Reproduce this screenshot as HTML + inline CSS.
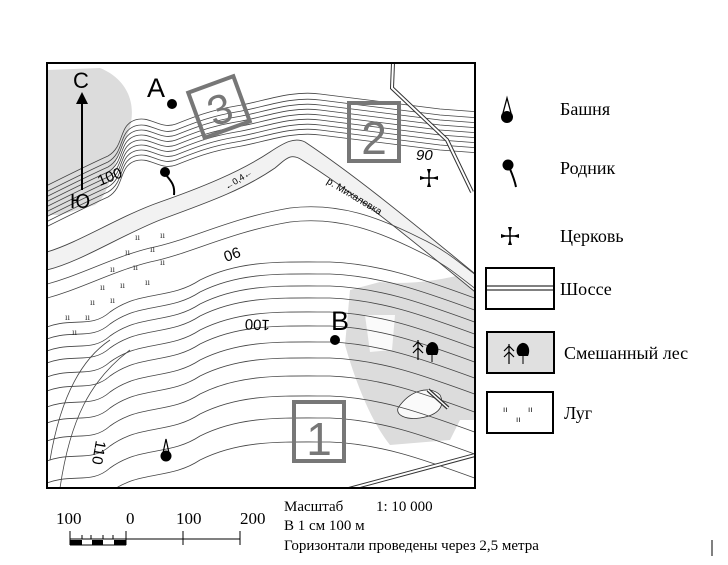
<!DOCTYPE html>
<html><head><meta charset="utf-8"><style>
html,body{margin:0;padding:0;background:#fff;}
svg{display:block}
text{font-family:"Liberation Serif",serif;}
.s{font-family:"Liberation Sans",sans-serif;}
</style></head><body>
<svg width="728" height="565" viewBox="0 0 728 565" xmlns="http://www.w3.org/2000/svg">
<defs>
<clipPath id="mc"><rect x="47" y="63" width="428" height="425"/></clipPath>
<path id="N" d="M40,195 C70,180 90,170 108,162 C125,152 118,132 135,126 C150,121 160,136 176,130 C196,122 212,116 236,112 C262,108 290,96 320,100 C360,105 400,110 440,115 L480,118" fill="none"/>
<path id="S" d="M40,300 C80,290 110,272 150,262 C190,254 230,232 290,222 C340,216 380,232 420,252 C450,266 465,282 480,292" fill="none"/>
<path id="S2" d="M40,330 C70,315 90,330 110,312 C140,290 170,300 200,280 C240,260 280,262 330,262 C380,264 420,278 480,300" fill="none"/>
</defs>
<g clip-path="url(#mc)">
<path d="M47,70 L100,68 C130,80 140,110 125,140 C110,170 110,195 95,205 L60,215 L47,215 Z" fill="#dcdcdc"/>
<path d="M350,290 L380,282 C410,285 440,280 460,275 L475,280 L475,420 L460,420 L450,440 L390,445 C370,420 355,380 345,345 Z" fill="#dcdcdc"/>
<path d="M398,408 C410,390 430,385 440,395 C445,405 440,415 420,418 C405,420 396,415 398,408 Z" fill="#fafafa" stroke="#333" stroke-width="0.8"/>
<path d="M365,315 L395,315 L392,350 L370,352 Z" fill="#fafafa"/>
<path d="M47,252 C80,242 120,216 160,202 C200,188 240,172 270,152 C285,142 295,137 305,142 C350,172 400,212 480,278 L480,296 C400,230 350,190 302,160 C290,152 285,160 275,168 C240,192 200,205 160,220 C120,236 80,262 47,270 Z" fill="#f2f2f2" stroke="#444" stroke-width="0.9"/>
<g stroke="#444" stroke-width="0.8" fill="none">
<use href="#N"/><use href="#N" y="5"/><use href="#N" y="10"/><use href="#N" y="15"/><use href="#N" y="20"/><use href="#N" y="25"/><use href="#N" y="30"/><use href="#N" y="35"/><use href="#N" y="-6"/>
<use href="#S" y="0"/><use href="#S" y="-14"/>
<use href="#S2" y="0"/><use href="#S2" y="12"/><use href="#S2" y="24"/><use href="#S2" y="36"/><use href="#S2" y="50"/><use href="#S2" y="64"/><use href="#S2" y="80"/><use href="#S2" y="96"/><use href="#S2" y="114"/><use href="#S2" y="134"/><use href="#S2" y="156"/><use href="#S2" y="180"/>
<path d="M60,488 C70,420 90,380 130,350"/><path d="M50,460 C60,400 80,360 110,340"/>
</g>
<path d="M393,63 L392,88 L447,140 L472,192" fill="none" stroke="#333" stroke-width="4"/>
<path d="M393,63 L392,88 L447,140 L472,192" fill="none" stroke="#fff" stroke-width="2"/>
<path d="M345,490 L475,455" fill="none" stroke="#333" stroke-width="4"/>
<path d="M345,490 L475,455" fill="none" stroke="#fff" stroke-width="2"/>
<path d="M428,390 L448,408" stroke="#333" stroke-width="4"/><path d="M428,390 L448,408" stroke="#fff" stroke-width="1.5"/>
<g font-size="9" fill="#333" class="s">
<text x="135" y="240">ıı</text><text x="160" y="238">ıı</text><text x="125" y="255">ıı</text><text x="150" y="252">ıı</text><text x="110" y="272">ıı</text><text x="133" y="270">ıı</text><text x="160" y="265">ıı</text><text x="100" y="290">ıı</text><text x="120" y="288">ıı</text><text x="145" y="285">ıı</text><text x="90" y="305">ıı</text><text x="110" y="303">ıı</text><text x="65" y="320">ıı</text><text x="85" y="320">ıı</text><text x="72" y="335">ıı</text>
</g>
</g>
<rect x="47" y="63" width="428" height="425" fill="none" stroke="#000" stroke-width="2"/>
<g transform="rotate(-20 219 107)"><rect x="195" y="83" width="48" height="48" fill="none" stroke="#777" stroke-width="4"/><text x="219" y="124" text-anchor="middle" class="s" font-size="42" fill="#777">3</text></g>
<rect x="349" y="103" width="50" height="58" fill="none" stroke="#777" stroke-width="4"/><text x="374" y="154" text-anchor="middle" class="s" font-size="46" fill="#777">2</text>
<rect x="294" y="402" width="50" height="59" fill="none" stroke="#777" stroke-width="4"/><text x="319" y="455" text-anchor="middle" class="s" font-size="46" fill="#777">1</text>
<text x="147" y="97" class="s" font-size="27">A</text><circle cx="172" cy="104" r="5"/>
<text x="331" y="330" class="s" font-size="27">B</text><circle cx="335" cy="340" r="5"/>
<text x="73" y="88" class="s" font-size="22">С</text>
<line x1="82" y1="102" x2="82" y2="190" stroke="#000" stroke-width="2"/><path d="M76,104 L82,92 L88,104 Z"/>
<text x="70" y="208" class="s" font-size="20">Ю</text>
<text x="416" y="160" class="s" font-size="15" font-style="italic">90</text>
<text transform="translate(100,186) rotate(-22)" class="s" font-size="15">100</text>
<text transform="translate(226,262) rotate(-20)" class="s" font-size="15">06</text>
<text transform="translate(270,320) rotate(182)" class="s" font-size="15">100</text>
<text transform="translate(96,440) rotate(100)" class="s" font-size="15">110</text>
<text transform="translate(326,183) rotate(31)" class="s" font-size="10">р. Михалевка</text>
<text transform="translate(227,190) rotate(-32)" class="s" font-size="9">←0,4←</text>
<circle cx="165" cy="172" r="5"/><path d="M166,175 C172,182 175,186 174,195" stroke="#000" stroke-width="2" fill="none"/>
<g transform="translate(429,178)"><path d="M-8,0 L8,0 M0,-8 L0,8" stroke="#000" stroke-width="1.5"/><path d="M-2,-9 L2,-9 L0,-3Z M-2,9 L2,9 L0,3Z M-9,-2 L-9,2 L-3,0Z M9,-2 L9,2 L3,0Z"/></g>
<g transform="translate(166,456)"><circle cx="0" cy="0" r="5.5"/><path d="M-3,-3 L0,-17 L3,-3" stroke="#000" fill="none" stroke-width="1.2"/></g>
<g stroke="#000" stroke-width="1.2" fill="none"><path d="M418,340 L418,360 M413,347 L418,342 L423,347 M413,353 L418,348 L423,353"/></g>
<path d="M428,355 C424,352 426,343 432,342 C438,342 440,350 437,355 Z" fill="#000"/><line x1="432" y1="355" x2="432" y2="362" stroke="#000"/>
<g transform="translate(507,110)"><circle cx="0" cy="7" r="6"/><path d="M-4,3 L0,-12 L4,3" stroke="#000" fill="none" stroke-width="1.3"/></g>
<text x="560" y="115" font-size="18">Башня</text>
<circle cx="508" cy="165" r="5.5"/><path d="M510,169 C513,176 515,182 516,187" stroke="#000" stroke-width="2" fill="none"/>
<text x="560" y="174" font-size="18">Родник</text>
<g transform="translate(510,236)"><path d="M-8,0 L8,0 M0,-8 L0,8" stroke="#000" stroke-width="1.5"/><path d="M-2,-9 L2,-9 L0,-3Z M-2,9 L2,9 L0,3Z M-9,-2 L-9,2 L-3,0Z M9,-2 L9,2 L3,0Z"/></g>
<text x="560" y="242" font-size="18">Церковь</text>
<rect x="486" y="268" width="68" height="41" fill="#fff" stroke="#000" stroke-width="2"/><line x1="487" y1="286" x2="553" y2="286" stroke="#000"/><line x1="487" y1="290" x2="553" y2="290" stroke="#000"/>
<text x="560" y="295" font-size="18">Шоссе</text>
<rect x="487" y="332" width="67" height="41" fill="#e0e0e0" stroke="#000" stroke-width="2"/>
<g stroke="#000" stroke-width="1.2" fill="none"><path d="M509,344 L509,364 M504,351 L509,346 L514,351 M504,357 L509,352 L514,357"/></g>
<path d="M519,356 C515,353 516,345 522,343 C528,342 531,350 528,356 Z" fill="#000"/><line x1="523" y1="356" x2="523" y2="364" stroke="#000"/>
<text x="564" y="359" font-size="18">Смешанный лес</text>
<rect x="487" y="392" width="66" height="41" fill="#fff" stroke="#000" stroke-width="2"/>
<text x="503" y="412" font-size="8" class="s">ıı</text><text x="528" y="412" font-size="8" class="s">ıı</text><text x="516" y="422" font-size="8" class="s">ıı</text>
<text x="564" y="419" font-size="18">Луг</text>
<line x1="712" y1="540" x2="712" y2="556" stroke="#000"/>
<g font-size="17"><text x="56" y="524">100</text><text x="126" y="524">0</text><text x="176" y="524">100</text><text x="240" y="524">200</text></g>
<g stroke="#000" stroke-width="1" fill="none">
<line x1="70" y1="539" x2="240" y2="539"/><line x1="70" y1="545" x2="126" y2="545"/>
<line x1="70" y1="531" x2="70" y2="545"/><line x1="126" y1="531" x2="126" y2="545"/><line x1="183" y1="531" x2="183" y2="545"/><line x1="240" y1="531" x2="240" y2="545"/>
<line x1="82" y1="535" x2="82" y2="539"/><line x1="91" y1="535" x2="91" y2="539"/><line x1="103" y1="535" x2="103" y2="539"/><line x1="113" y1="535" x2="113" y2="539"/>
</g>
<rect x="70" y="540" width="12" height="5"/><rect x="92" y="540" width="11" height="5"/><rect x="114" y="540" width="12" height="5"/>
<g font-size="15"><text x="284" y="511">Масштаб</text><text x="376" y="511">1: 10 000</text><text x="284" y="530">В 1 см 100 м</text><text x="284" y="550">Горизонтали проведены через 2,5 метра</text></g>
</svg>
</body></html>
